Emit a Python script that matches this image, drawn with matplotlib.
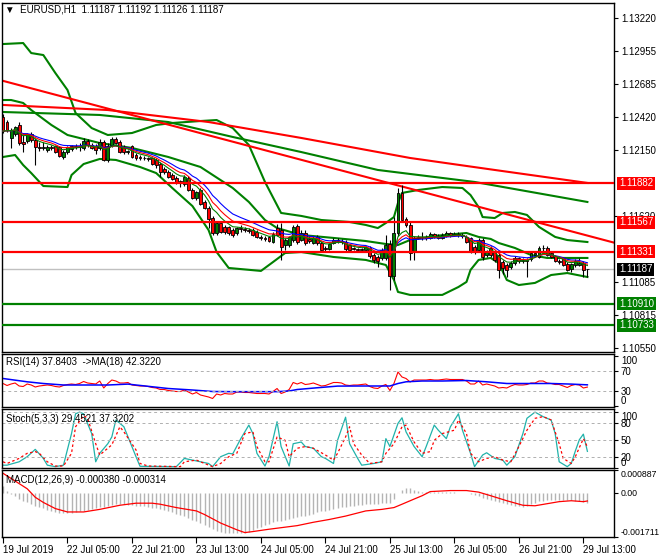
import numpy as np
import pandas as pd
import matplotlib
matplotlib.use("Agg")
import matplotlib.pyplot as plt
import matplotlib.transforms as mtransforms

plt.rcParams["font.family"] = ["Liberation Sans", "DejaVu Sans"]
plt.rcParams["font.size"] = 7

title = "\u25bc  EURUSD,H1  1.11187 1.11192 1.11126 1.11187"

# hourly candles, 19 Jul 13:00 .. 29 Jul 14:00
opens = [
    1.12419, 1.12379, 1.12250, 1.12282, 1.12355, 1.12217, 1.12225, 1.12282, 1.12233, 1.12177,
    1.12169, 1.12152, 1.12177, 1.12185, 1.12177, 1.12096, 1.12136, 1.12161, 1.12185, 1.12177,
    1.12169, 1.12225, 1.12193, 1.12185, 1.12169, 1.12217, 1.12072, 1.12193, 1.12241, 1.12217,
    1.12177, 1.12136, 1.12185, 1.12112, 1.12096, 1.12088, 1.12088, 1.12088, 1.12072, 1.12039,
    1.11999, 1.11974, 1.11950, 1.11926, 1.11902, 1.11877, 1.11926, 1.11829, 1.11764, 1.11829,
    1.11732, 1.11683, 1.11602, 1.11481, 1.11562, 1.11530, 1.11530, 1.11505, 1.11481, 1.11521,
    1.11513, 1.11505, 1.11505, 1.11489, 1.11449, 1.11441, 1.11449, 1.11408, 1.11521, 1.11505,
    1.11384, 1.11384, 1.11424, 1.11538, 1.11424, 1.11481, 1.11433, 1.11400, 1.11449, 1.11400,
    1.11360, 1.11352, 1.11400, 1.11424, 1.11416, 1.11408, 1.11384, 1.11360, 1.11352, 1.11343,
    1.11343, 1.11360, 1.11303, 1.11287, 1.11279, 1.11279, 1.11392, 1.11133, 1.11481, 1.11805,
    1.11594, 1.11546, 1.11327, 1.11441, 1.11449, 1.11449, 1.11441, 1.11473, 1.11457, 1.11441,
    1.11457, 1.11481, 1.11465, 1.11473, 1.11465, 1.11449, 1.11441, 1.11368, 1.11343, 1.11424,
    1.11303, 1.11360, 1.11327, 1.11303, 1.11246, 1.11222, 1.11206, 1.11238, 1.11279, 1.11255,
    1.11263, 1.11271, 1.11303, 1.11287, 1.11360, 1.11360, 1.11319, 1.11295, 1.11255, 1.11279,
    1.11230, 1.11190, 1.11222, 1.11222, 1.11238, 1.11187]
highs = [
    1.12444, 1.12395, 1.12330, 1.12347, 1.12379, 1.12274, 1.12290, 1.12298, 1.12250, 1.12217,
    1.12217, 1.12193, 1.12193, 1.12193, 1.12185, 1.12152, 1.12185, 1.12193, 1.12201, 1.12209,
    1.12250, 1.12241, 1.12209, 1.12201, 1.12241, 1.12233, 1.12209, 1.12258, 1.12258, 1.12233,
    1.12193, 1.12152, 1.12193, 1.12128, 1.12112, 1.12104, 1.12096, 1.12096, 1.12088, 1.12055,
    1.12015, 1.11991, 1.11966, 1.11942, 1.11910, 1.11950, 1.11942, 1.11845, 1.11821, 1.11845,
    1.11748, 1.11700, 1.11619, 1.11570, 1.11578, 1.11546, 1.11538, 1.11521, 1.11530, 1.11546,
    1.11530, 1.11521, 1.11521, 1.11505, 1.11465, 1.11457, 1.11457, 1.11489, 1.11554, 1.11562,
    1.11441, 1.11457, 1.11546, 1.11554, 1.11505, 1.11505, 1.11457, 1.11457, 1.11465, 1.11416,
    1.11376, 1.11400, 1.11441, 1.11441, 1.11433, 1.11424, 1.11392, 1.11368, 1.11360, 1.11360,
    1.11376, 1.11376, 1.11319, 1.11303, 1.11360, 1.11465, 1.11424, 1.11610, 1.11845, 1.11869,
    1.11610, 1.11570, 1.11457, 1.11465, 1.11489, 1.11465, 1.11489, 1.11481, 1.11473, 1.11481,
    1.11497, 1.11489, 1.11489, 1.11489, 1.11481, 1.11465, 1.11449, 1.11384, 1.11441, 1.11441,
    1.11343, 1.11376, 1.11343, 1.11319, 1.11263, 1.11238, 1.11255, 1.11295, 1.11287, 1.11279,
    1.11279, 1.11335, 1.11335, 1.11376, 1.11384, 1.11376, 1.11335, 1.11303, 1.11271, 1.11287,
    1.11246, 1.11238, 1.11271, 1.11279, 1.11255, 1.11192]
lows = [
    1.12290, 1.12298, 1.12169, 1.12266, 1.12193, 1.12136, 1.12209, 1.12217, 1.12031, 1.12144,
    1.12152, 1.12136, 1.12152, 1.12128, 1.12096, 1.12080, 1.12120, 1.12144, 1.12161, 1.12144,
    1.12152, 1.12177, 1.12161, 1.12120, 1.12152, 1.12063, 1.12055, 1.12177, 1.12201, 1.12128,
    1.12120, 1.12120, 1.12088, 1.12072, 1.12072, 1.12072, 1.12063, 1.12031, 1.12007, 1.11934,
    1.11958, 1.11926, 1.11910, 1.11877, 1.11853, 1.11861, 1.11821, 1.11756, 1.11748, 1.11708,
    1.11675, 1.11521, 1.11465, 1.11465, 1.11481, 1.11473, 1.11465, 1.11449, 1.11465, 1.11489,
    1.11489, 1.11481, 1.11457, 1.11441, 1.11424, 1.11416, 1.11408, 1.11400, 1.11457, 1.11263,
    1.11343, 1.11368, 1.11408, 1.11392, 1.11416, 1.11384, 1.11400, 1.11392, 1.11384, 1.11327,
    1.11335, 1.11343, 1.11392, 1.11400, 1.11392, 1.11335, 1.11327, 1.11343, 1.11335, 1.11335,
    1.11335, 1.11279, 1.11238, 1.11206, 1.11263, 1.11263, 1.11020, 1.11101, 1.11457, 1.11570,
    1.11530, 1.11263, 1.11263, 1.11433, 1.11424, 1.11424, 1.11433, 1.11441, 1.11433, 1.11433,
    1.11449, 1.11449, 1.11457, 1.11449, 1.11441, 1.11400, 1.11319, 1.11311, 1.11335, 1.11263,
    1.11287, 1.11287, 1.11246, 1.11117, 1.11149, 1.11125, 1.11190, 1.11222, 1.11238, 1.11238,
    1.11125, 1.11255, 1.11287, 1.11279, 1.11327, 1.11295, 1.11279, 1.11246, 1.11230, 1.11214,
    1.11174, 1.11166, 1.11206, 1.11214, 1.11125, 1.11126]
closes = [
    1.12306, 1.12314, 1.12314, 1.12339, 1.12209, 1.12201, 1.12282, 1.12233, 1.12177, 1.12169,
    1.12177, 1.12177, 1.12169, 1.12136, 1.12104, 1.12136, 1.12177, 1.12185, 1.12177, 1.12185,
    1.12225, 1.12193, 1.12169, 1.12152, 1.12217, 1.12072, 1.12185, 1.12241, 1.12209, 1.12136,
    1.12136, 1.12144, 1.12096, 1.12088, 1.12088, 1.12085, 1.12080, 1.12039, 1.12031, 1.11974,
    1.11974, 1.11934, 1.11918, 1.11885, 1.11894, 1.11934, 1.11829, 1.11764, 1.11813, 1.11716,
    1.11683, 1.11594, 1.11481, 1.11562, 1.11489, 1.11489, 1.11481, 1.11465, 1.11521, 1.11513,
    1.11505, 1.11497, 1.11465, 1.11449, 1.11441, 1.11433, 1.11416, 1.11473, 1.11465, 1.11368,
    1.11424, 1.11449, 1.11530, 1.11408, 1.11481, 1.11400, 1.11416, 1.11441, 1.11400, 1.11343,
    1.11352, 1.11392, 1.11424, 1.11416, 1.11408, 1.11352, 1.11343, 1.11352, 1.11343, 1.11352,
    1.11368, 1.11295, 1.11263, 1.11255, 1.11343, 1.11384, 1.11133, 1.11481, 1.11805, 1.11586,
    1.11546, 1.11319, 1.11441, 1.11449, 1.11445, 1.11441, 1.11473, 1.11449, 1.11441, 1.11465,
    1.11481, 1.11465, 1.11473, 1.11465, 1.11457, 1.11408, 1.11327, 1.11327, 1.11424, 1.11287,
    1.11335, 1.11303, 1.11263, 1.11182, 1.11198, 1.11182, 1.11238, 1.11279, 1.11255, 1.11263,
    1.11255, 1.11319, 1.11319, 1.11360, 1.11356, 1.11303, 1.11287, 1.11255, 1.11246, 1.11222,
    1.11182, 1.11230, 1.11255, 1.11238, 1.11182, 1.11187]

time_tick_bars = [0, 16, 32, 48, 64, 80, 96, 112, 128, 144]
time_tick_labels = ["19 Jul 2019", "22 Jul 05:00", "22 Jul 21:00", "23 Jul 13:00",
                    "24 Jul 05:00", "24 Jul 21:00", "25 Jul 13:00", "26 Jul 05:00",
                    "26 Jul 21:00", "29 Jul 13:00"]
price_ticks = [1.13220, 1.12955, 1.12685, 1.12420, 1.12150, 1.11620, 1.11085, 1.10815,
               1.10550]

red_levels = [1.11882, 1.11567, 1.11331]
green_levels = [1.10910, 1.10733]
last_price = 1.11187

bb_up_x = [0, 5, 7, 10, 13, 16, 18, 22, 26, 32, 38, 42, 49, 53, 57, 61, 65, 69, 74, 79,
           86, 90, 93, 95, 97, 98, 99, 103, 109, 114, 116, 118, 119, 122, 124, 127, 130,
           133, 137, 140, 145]
bb_up_y = [1.13010, 1.13018, 1.12937, 1.12921, 1.12775, 1.12638, 1.12452, 1.12330, 1.12274,
           1.12290, 1.12355, 1.12371, 1.12387, 1.12395, 1.12330, 1.12193, 1.11894, 1.11643,
           1.11619, 1.11586, 1.11570, 1.11546, 1.11521, 1.11562, 1.11610, 1.11724, 1.11805,
           1.11829, 1.11853, 1.11845, 1.11788, 1.11691, 1.11610, 1.11602, 1.11643, 1.11651,
           1.11627, 1.11530, 1.11449, 1.11424, 1.11408]
bb_mid_x = [0, 2, 5, 7, 12, 16, 24, 32, 41, 49, 57, 61, 65, 68, 74, 82, 90, 95, 98, 101,
            107, 115, 118, 121, 123, 127, 131, 135, 145]
bb_mid_y = [1.12557, 1.12557, 1.12533, 1.12476, 1.12355, 1.12274, 1.12209, 1.12169, 1.12096,
            1.12015, 1.11845, 1.11732, 1.11586, 1.11521, 1.11465, 1.11441, 1.11416, 1.11392,
            1.11384, 1.11424, 1.11457, 1.11481, 1.11449, 1.11433, 1.11400, 1.11360, 1.11303,
            1.11279, 1.11279]
bb_lo_x = [0, 3, 5, 7, 10, 16, 17, 20, 24, 28, 34, 38, 42, 47, 51, 53, 56, 64, 67, 70,
           74, 82, 90, 95, 97, 98, 101, 109, 113, 115, 116, 118, 121, 123, 125, 128, 132,
           136, 140, 145]
bb_lo_y = [1.12096, 1.12112, 1.12031, 1.11966, 1.11861, 1.11853, 1.11950, 1.12039, 1.12080,
           1.12072, 1.12015, 1.11966, 1.11845, 1.11699, 1.11505, 1.11327, 1.11198, 1.11174,
           1.11246, 1.11319, 1.11327, 1.11287, 1.11263, 1.11222, 1.11101, 1.11004, 1.10980,
           1.10980, 1.11044, 1.11085, 1.11182, 1.11263, 1.11279, 1.11238, 1.11101, 1.11060,
           1.11077, 1.11141, 1.11157, 1.11125]

# long moving averages
slow_green_x = [0, 24, 41, 57, 74, 93, 117, 145]
slow_green_y = [1.12460, 1.12436, 1.12379, 1.12258, 1.12136, 1.11991, 1.11894, 1.11732]
slow_red_x = [0, 26, 51, 74, 101, 122, 145]
slow_red_y = [1.12517, 1.12476, 1.12379, 1.12250, 1.12088, 1.11991, 1.11886]

# falling trendline anchors
trend_x = [0, 145]
trend_y = [1.12712, 1.11460]

rsi_vals = [
    45, 41, 44, 46, 40, 39, 44, 42, 38, 40,
    41, 42, 41, 39, 38, 41, 43, 44, 43, 45,
    49, 46, 45, 44, 50, 36, 45, 52, 50, 46,
    46, 47, 42, 41, 40, 40, 39, 37, 36, 33,
    33, 31, 30, 29, 29, 32, 28, 24, 27, 22,
    20, 18, 15, 24, 22, 25, 24, 24, 28, 28,
    27, 27, 26, 25, 25, 25, 24, 29, 35, 25,
    28, 33, 47, 44, 47, 43, 44, 46, 43, 40,
    41, 44, 47, 47, 46, 42, 41, 42, 42, 43,
    44, 39, 36, 35, 40, 43, 31, 45, 68, 58,
    55, 48, 52, 52, 52, 52, 53, 52, 52, 53,
    54, 53, 53, 53, 53, 50, 44, 44, 50, 42,
    44, 42, 40, 36, 37, 36, 40, 43, 42, 42,
    43, 46, 46, 50, 50, 46, 45, 43, 43, 40,
    37, 41, 43, 42, 36, 37.84]
rsi_ma_x = [0, 6, 10, 15, 20, 26, 31, 33, 37, 41, 47, 52, 57, 62, 68, 71, 73, 78, 83, 89,
            96, 98, 100, 104, 109, 115, 120, 125, 130, 136, 141, 145]
rsi_ma_y = [55, 48.4, 45, 42, 42, 42, 43.8, 42, 38.5, 35, 32, 29, 28.7, 28.7, 28.7, 30, 33,
            36.5, 39.8, 40, 40, 45, 48.4, 50, 50, 51, 48.4, 45, 45, 45, 43.8, 42.32]

stoch_k_x = [0, 1, 4, 6, 8, 10, 11, 13, 15, 17, 18, 19, 20, 22, 23, 24, 26, 27, 28, 30,
             33, 34, 43, 45, 49, 51, 52, 54, 56, 57, 59, 61, 62, 63, 65, 66, 68, 69, 71, 72,
             74, 75, 77, 79, 80, 82, 83, 85, 86, 88, 89, 92, 94, 95, 96, 98, 99, 100, 102,
             104, 105, 107, 108, 110, 111, 113, 114, 116, 117, 119, 120, 122, 124, 125, 127,
             129, 130, 132, 134, 136, 137, 138, 140, 141, 142, 143, 144, 145]
stoch_k_y = [5, 5, 11, 20, 33, 17, 5, 2.4, 5, 61, 96, 99, 96, 61, 11, 26, 43, 55, 85, 73,
             20, 3, 2.4, 17, 11, 8, 2.4, 20, 26, 25, 52, 76, 61, 26, 3.5, 20, 82, 38, 3.5, 43,
             46, 38, 35, 20, 17, 8, 49, 90, 43, 17, 5, 8, 11, 52, 38, 79, 89, 64, 38,
             20, 38, 76, 67, 52, 73, 96, 67, 26, 2.4, 23, 27, 17, 14, 5, 20,
             61, 88, 99, 91, 85, 61, 11, 2.4, 8, 30, 50, 60, 29.45]
stoch_d_x = [0, 1, 4, 6, 8, 9, 11, 13, 15, 17, 18, 20, 21, 23, 24, 27, 29, 30, 33, 34,
             36, 44, 45, 48, 50, 52, 54, 56, 58, 60, 62, 63, 65, 66, 68, 70, 71, 73, 75, 77,
             80, 82, 83, 85, 86, 87, 89, 91, 94, 95, 97, 99, 100, 102, 104, 106, 107, 109,
             112, 113, 115, 116, 118, 120, 122, 124, 126, 128, 130, 132, 134, 136, 138, 139,
             141, 142, 144, 145]
stoch_d_y = [11, 8, 17, 26, 29, 26, 11, 3.5, 3.5, 26, 73, 93, 88, 43, 23, 41, 73, 64, 32, 8,
             3.5, 2.4, 11, 14, 8, 2.4, 8, 20, 26, 61, 64, 38, 11, 11, 55, 49, 20, 35, 38, 35,
             23, 14, 26, 55, 73, 43, 23, 8, 11, 26, 43, 73, 76, 46, 26, 29, 49, 61,
             67, 85, 61, 26, 11, 17, 20, 14, 11, 38, 67, 88, 91, 85, 43, 17,
             8, 20, 52, 37.32]

# MACD main (histogram) per bar and signal line, in units of 1e-4
macd_main_e4 = [
    2.5, 0.8, -0.3, -1.3, -2.2, -3.0, -3.6, -4.2, -4.9, -5.5,
    -6.0, -6.6, -7.1, -7.4, -7.7, -7.8, -7.8, -7.7, -7.5, -7.2,
    -7.0, -6.7, -6.4, -6.0, -5.6, -5.3, -5.0, -4.6, -4.4, -4.4,
    -4.5, -4.6, -4.8, -4.9, -5.0, -5.2, -5.4, -5.7, -6.0, -6.4,
    -6.8, -7.1, -7.6, -8.1, -8.6, -9.1, -9.8, -10.5, -11.0, -11.6,
    -12.3, -13.3, -14.2, -14.7, -15.1, -15.4, -15.6, -15.7, -15.7, -15.6,
    -15.4, -15.0, -14.4, -13.8, -13.1, -12.5, -11.9, -11.3, -10.9, -10.9,
    -10.5, -10.2, -9.7, -9.4, -9.1, -8.8, -8.4, -8.0, -7.6, -7.2,
    -6.9, -6.6, -6.2, -5.8, -5.5, -5.3, -5.1, -4.9, -4.7, -4.6,
    -4.5, -4.5, -4.5, -4.4, -4.1, -3.8, -3.9, -2.4, -0.2, 1.2,
    1.7, 1.9, 1.2, 0.6, 0.5, 0.5, 0.4, 0.4, 0.3, 0.3,
    0.3, 0.2, 0.2, 0.1, 0.0, -0.2, -0.6, -1.0, -1.4, -1.8,
    -2.2, -2.6, -3.1, -3.6, -4.0, -4.4, -4.8, -5.0, -5.2, -5.3,
    -5.0, -4.5, -4.0, -3.3, -3.0, -2.8, -2.7, -2.6, -2.6, -2.7,
    -2.8, -2.9, -3.0, -3.2, -3.6, -3.80]
signal_x = [0, 2, 6, 8, 10, 13, 16, 20, 24, 29, 33, 37, 39, 43, 48, 50, 54, 58, 60, 62,
            66, 73, 77, 81, 85, 90, 94, 97, 99, 102, 104, 106, 111, 115, 118, 121, 125,
            129, 132, 135, 138, 141, 144, 145]
signal_e4 = [7.6, 5.6, 1.6, -1.7, -3.7, -6.1, -7.4, -7.4, -6.4, -4.8, -4.0, -4.0, -4.4, -5.7,
             -7.0, -8.4, -11.7, -14.3, -15.4, -15.0, -14.1, -12.7, -11.4, -10.3, -9.0, -7.0,
             -6.4, -5.7, -4.4, -2.4, -1.1, 0.5, 0.9, 0.9, 0.3, -1.1, -3.05, -4.8, -5.0, -4.2,
             -3.4, -3.05, -3.4, -3.14]

GREEN = "#008000"
W, H = 660, 560


def panel(top, bottom):
    return fig.add_axes([2 / W, 1 - bottom / H, 612 / W, (bottom - top) / H])


fig = plt.figure(figsize=(6.6, 5.6), dpi=100)
ax = panel(3, 352)
ax_rsi = panel(354, 407)
ax_st = panel(409, 468)
ax_macd = panel(470, 537)

idx = np.arange(len(closes))
o, h, l, c = map(np.array, (opens, highs, lows, closes))

# bands and slow lines
for xs, ys in [(bb_up_x, bb_up_y), (bb_mid_x, bb_mid_y), (bb_lo_x, bb_lo_y),
               (slow_green_x, slow_green_y)]:
    ax.plot(xs, ys, color=GREEN, lw=1.5, zorder=2)
ax.plot(slow_red_x, slow_red_y, color="red", lw=1.5, zorder=2)
ax.axline((trend_x[0], trend_y[0]), (trend_x[1], trend_y[1]), color="red", lw=1.5, zorder=2)

# candles
up = c >= o
ax.vlines(idx, l, h, color="black", lw=0.8, zorder=3)
body = np.maximum(np.abs(c - o), 0.00001)
ax.bar(idx, body, bottom=np.minimum(o, c), width=0.72,
       color=np.where(up, GREEN, "red"), edgecolor="black", linewidth=0.6, zorder=4)

# short moving averages
cs = pd.Series(closes)
ax.plot(idx, cs.ewm(span=14, adjust=False).mean(), color="blue", lw=0.8, zorder=5)
ax.plot(idx, cs.ewm(span=10, adjust=False).mean(), color="red", lw=0.8, zorder=5)
ax.plot(idx, cs.ewm(span=7, adjust=False).mean(), color=GREEN, lw=0.8, zorder=5)

# levels
ax.axhline(last_price, color="#c0c0c0", lw=1, zorder=1)
for lv in red_levels:
    ax.axhline(lv, color="red", lw=1.6, zorder=6)
for lv in green_levels:
    ax.axhline(lv, color=GREEN, lw=1.6, zorder=6)

ax.set_ylim(1.10518, 1.13342)
ax.set_yticks(price_ticks)
ax.set_yticklabels([f"{p:.5f}" for p in price_ticks])

lbl_tr = mtransforms.blended_transform_factory(fig.transFigure, ax.transData)
boxes = [(lv, "red") for lv in red_levels] + [(last_price, "black")] + \
        [(lv, GREEN) for lv in green_levels]
for lv, col in boxes:
    ax.text(619 / W, lv, f"{lv:.5f}", transform=lbl_tr, color="white", va="center",
            ha="left", clip_on=False, zorder=10,
            bbox=dict(facecolor=col, edgecolor="none", pad=1.2))

fig.text(5 / W, 1 - 10 / H, title, va="center", ha="left")

# RSI
ax_rsi.plot(idx, rsi_vals, color="red", lw=0.8)
ax_rsi.plot(rsi_ma_x, rsi_ma_y, color="blue", lw=1.1)
for lv in (30, 70):
    ax_rsi.axhline(lv, color="#b0b0b0", lw=0.7, ls=(0, (3, 3)))
ax_rsi.set_ylim(-2, 104)
ax_rsi.set_yticks([0, 30, 70, 100])
fig.text(6 / W, 1 - 362 / H, "RSI(14) 37.8403  ->MA(18) 42.3220", va="center")

# Stochastic
ax_st.plot(stoch_k_x, stoch_k_y, color="#20b2aa", lw=0.9)
ax_st.plot(stoch_d_x, stoch_d_y, color="red", lw=0.9, ls=(0, (2, 2)))
for lv in (20, 50, 80, 100):
    ax_st.axhline(lv, color="#b0b0b0", lw=0.7, ls=(0, (3, 3)))
ax_st.set_ylim(0, 104.5)
ax_st.set_yticks([0, 20, 50, 80, 100])
fig.text(6 / W, 1 - 419 / H, "Stoch(5,3,3) 29.4521 37.3202", va="center")

# MACD
macd_main = np.array(macd_main_e4) * 1e-4
ax_macd.vlines(idx, 0, macd_main, color="#b4b4b4", lw=1)
ax_macd.plot(signal_x, np.array(signal_e4) * 1e-4, color="red", lw=0.9)
ax_macd.set_ylim(-0.001711, 0.000887)
ax_macd.set_yticks([-0.001711, 0, 0.000887])
ax_macd.set_yticklabels(["-0.001711", "0.00", "0.000887"])
fig.text(6 / W, 1 - 480 / H, "MACD(12,26,9) -0.000380 -0.000314", va="center")

for a in (ax, ax_rsi, ax_st, ax_macd):
    a.set_xlim(-0.25, 151.6)
    a.yaxis.tick_right()
    a.tick_params(axis="y", direction="out", length=3, width=0.8, pad=2, labelsize=7)
    for s in a.spines.values():
        s.set_linewidth(1)
    if a is not ax_macd:
        a.set_xticks([])

ax_macd.tick_params(axis="y", labelsize=6.3, pad=1.5)

for a in (ax_rsi, ax_st, ax_macd):
    labs = a.get_yticklabels()
    labs[0].set_va("bottom")
    labs[-1].set_va("top")

ax_macd.set_xticks(time_tick_bars)
ax_macd.set_xticklabels(time_tick_labels)
ax_macd.tick_params(axis="x", direction="out", length=4, width=0.8, pad=2, labelsize=7)
for t in ax_macd.get_xticklabels():
    t.set_ha("left")

fig.savefig("out.png", dpi=100, facecolor="white")
